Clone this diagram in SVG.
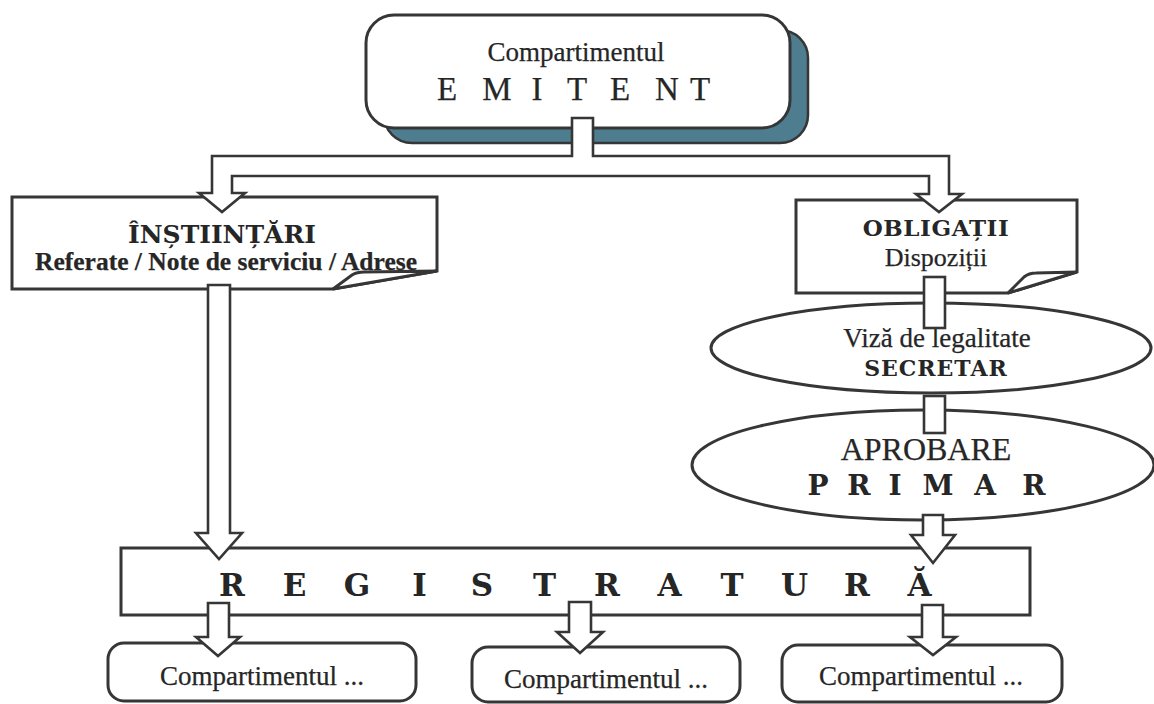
<svg xmlns="http://www.w3.org/2000/svg" width="1154" height="704" viewBox="0 0 1154 704">
<style>
.bx{fill:#fff;stroke:#363636;stroke-width:3;stroke-linejoin:miter}
.sh{fill:#4e7d90;stroke:#363636;stroke-width:2.5}
.cn{fill:#fff;stroke:#363636;stroke-width:2.6;stroke-linejoin:miter}
.tm{font-family:"Liberation Serif","Times New Roman",serif;fill:#262626;text-anchor:middle;stroke:#262626;stroke-width:0.25}
.bk{font-family:"DejaVu Serif","Liberation Serif",serif;font-weight:bold;fill:#262626;text-anchor:middle}
</style>
<rect x="0" y="0" width="1154" height="704" fill="#fff"/>
<g id="emitent">
<rect class="sh" x="384" y="30" width="424" height="113" rx="28"/>
<rect class="bx" x="366" y="15" width="424" height="113" rx="28"/>
<text class="tm" x="576" y="61" font-size="27">Compartimentul</text>
<text class="tm" font-size="33" y="100" x="447 497 537 577 620 667 700">EMITENT</text>
</g>
<g id="instiintari">
<path class="bx" d="M12,197 H437 V271 L333,289 H12 Z"/>
<path class="bx" d="M333,289 L352,275 Q357,272 364,272 L437,271 Z"/>
<text class="bk" x="222" y="243" font-size="25">ÎNȘTIINȚĂRI</text>
<text class="tm" x="226" y="270" font-size="25.5" font-weight="bold" stroke-width="0">Referate / Note de serviciu / Adrese</text>
</g>
<g id="obligatii">
<path class="bx" d="M796,200 H1077 V272 L1008,293 H796 Z"/>
<path class="bx" d="M1008,293 L1024,277 Q1029,273 1036,273 L1077,272 Z"/>
<text class="bk" x="936" y="236" font-size="23" letter-spacing="0.6">OBLIGAȚII</text>
<text class="tm" x="936" y="266" font-size="26">Dispoziții</text>
</g>
<g id="secretar">
<ellipse class="bx" cx="931" cy="348" rx="220" ry="45"/>
<text class="tm" x="937" y="347" font-size="27">Viză de legalitate</text>
<text class="bk" x="936" y="376" font-size="22" letter-spacing="1">SECRETAR</text>
</g>
<g id="primar">
<ellipse class="bx" cx="923" cy="465" rx="231" ry="55"/>
<text class="tm" x="926" y="460" font-size="32">APROBARE</text>
<text class="bk" font-size="28" y="495" x="818 859 895 938 985 1034">PRIMAR</text>
</g>
<g id="registratura">
<rect class="bx" x="121" y="548" width="909" height="67"/>
<text class="bk" font-size="31" y="596" x="232 294.5 357 419.5 482 544.5 607 669.5 732 794.5 857 919.5">REGISTRATURĂ</text>
</g>
<g id="comp1">
<rect class="bx" x="108" y="643" width="308" height="58" rx="16"/>
<text class="tm" x="262" y="685" font-size="27">Compartimentul ...</text>
</g>
<g id="comp2">
<rect class="bx" x="472" y="647" width="268" height="55" rx="16"/>
<text class="tm" x="606" y="688" font-size="27">Compartimentul ...</text>
</g>
<g id="comp3">
<rect class="bx" x="782" y="645" width="280" height="57" rx="16"/>
<text class="tm" x="921" y="685" font-size="27">Compartimentul ...</text>
</g>
<g id="connectors">
<polygon class="cn" points="572,118 572,156 212,156 212,193 199,193 222,212 245,193 232,193 232,176 929,176 929,194 916,194 939,212 962,194 949,194 949,156 593,156 593,118"/>
<polygon class="cn" points="208,285 208,533 196,533 219,559 242,533 230,533 230,285"/>
<rect class="cn" x="924" y="277" width="21" height="51"/>
<rect class="cn" x="924" y="396" width="21" height="37"/>
<polygon class="cn" points="923,515 923,535 911,535 933,563 955,535 943,535 943,515"/>
<polygon class="cn" points="208,603 208,637 196,637 218,656 240,637 229,637 229,603"/>
<polygon class="cn" points="569,602 569,632 557,632 580,653 603,632 591,632 591,602"/>
<polygon class="cn" points="922,605 922,637 910,637 933,655 956,637 943,637 943,605"/>
</g>
</svg>
